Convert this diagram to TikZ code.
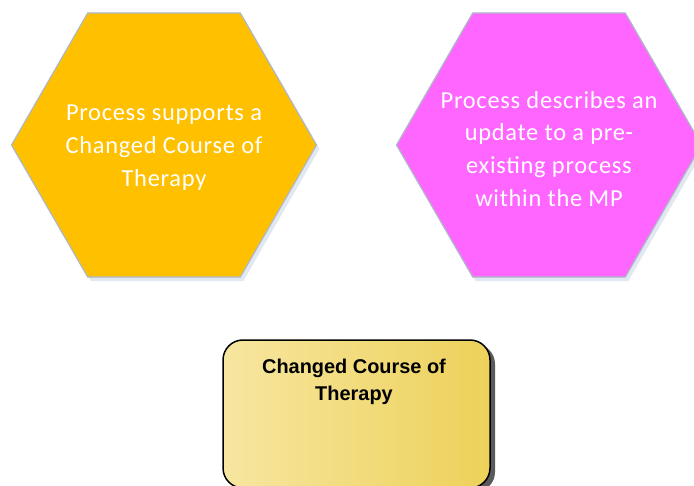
\documentclass[tikz,border=0pt]{standalone}
\usepackage{fontspec}
\usetikzlibrary{shapes.geometric}
\newfontfamily\hexfont[LetterSpace=3]{Carlito}
\newfontfamily\boxfont{Liberation Sans}
\definecolor{goldfill}{HTML}{FFC000}
\definecolor{pinkfill}{HTML}{FF66FF}
\definecolor{hexedge}{HTML}{AEB8C6}
\definecolor{hexshadow}{HTML}{E2E8F1}
\definecolor{boxleft}{HTML}{F7E6A0}
\definecolor{boxright}{HTML}{EDD15A}
\definecolor{boxshadow}{HTML}{5A5A5A}
\tikzset{
  hexshape/.style={regular polygon, regular polygon sides=6, minimum size=305bp, inner sep=0pt, draw=hexedge, line width=1.2bp},
  hexshadowshape/.style={regular polygon, regular polygon sides=6, minimum size=305bp, inner sep=0pt, fill=hexshadow},
  hextext/.style={text=white, align=center, font=\hexfont\fontsize{24.5}{33}\selectfont},
  boxtext/.style={text=black, align=center, font=\boxfont\bfseries\fontsize{20}{27}\selectfont}
}
\begin{document}
\begin{tikzpicture}[x=1bp,y=-1bp]
\useasboundingbox (0,0) rectangle (694,486);
\clip (0,0) rectangle (694,486);
% soft shadows of hexagons
\node[hexshadowshape] (hexLs) at (167,149) {};
\node[hexshadowshape] (hexRs) at (552,149) {};
% hexagons
\node[hexshape, fill=goldfill] (hexL) at (164,145) {};
\node[hexshape, fill=pinkfill] (hexR) at (549,145) {};
\node[hextext] (tL) at (164,148) {Process supports a\\Changed Course of\\Therapy};
\node[hextext] (tR) at (549,149) {Process describes an\\update to a pre-\\existing process\\within the MP};
% rounded box with shadow
\fill[boxshadow, rounded corners=20bp] (228,344) rectangle (495,492);
\draw[line width=1.5bp, rounded corners=20bp, left color=boxleft, right color=boxright] (223,340) rectangle (490,488);
\node[boxtext, anchor=north] (tB) at (354,356) {Changed Course of\\Therapy};
\end{tikzpicture}
\end{document}
